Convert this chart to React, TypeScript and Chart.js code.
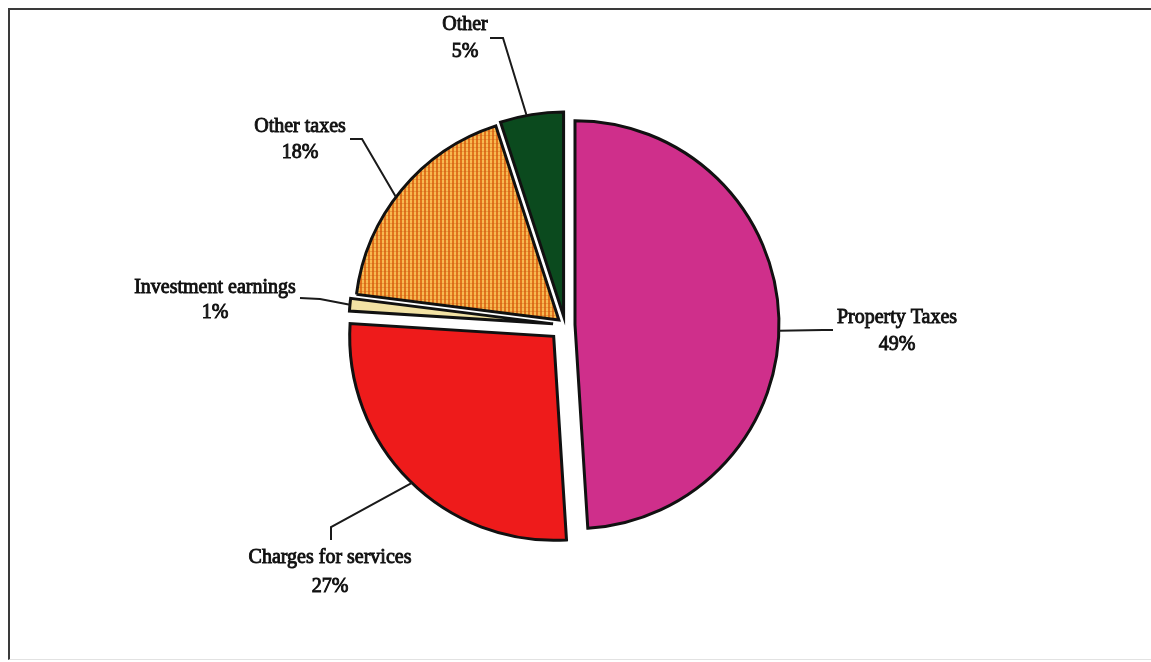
import React, { useEffect, useRef } from 'react';
import { Chart, registerables } from 'chart.js';

Chart.register(...registerables);

// ---- data ----
const categories = ['Property Taxes', 'Charges for services', 'Investment earnings', 'Other taxes', 'Other'];
const percentages = [49, 27, 1, 18, 5];

// ---- styles ----
const sliceColors = ['#CF2F8B', '#EE1B1B', '#F2E2A4', 'pattern', '#0B4A1E'];
const explodeDistance = [10, 16, 12, 8, 9];

// label layout, relative to pie centre: anchor fraction along slice, elbow, end, text centre x, line y's
const labelLayout = [
  { frac: 0.52, elbow: [258, 5], end: [268, 5], tx: 332, ty: [-7, 20] },
  { frac: 0.49, elbow: [-234, 202], end: [-234, 215], tx: -235, ty: [233, 262] },
  { frac: 0.5, elbow: [-245, -26], end: [-265, -27], tx: -350, ty: [-37, -12] },
  { frac: 0.46, elbow: [-203, -186], end: [-215, -186], tx: -265, ty: [-198, -172] },
  { frac: 0.42, elbow: [-62, -287], end: [-75, -287], tx: -100, ty: [-300, -273] },
];

function makePattern(): CanvasPattern | string {
  const c = document.createElement('canvas');
  c.width = 4;
  c.height = 4;
  const g = c.getContext('2d');
  if (!g) return '#EE9030';
  g.fillStyle = '#F7BA52';
  g.fillRect(0, 0, 4, 4);
  g.fillStyle = '#E2731C';
  g.fillRect(0, 0, 2, 4);
  g.fillStyle = 'rgba(200,90,20,0.35)';
  g.fillRect(0, 3, 4, 1);
  const p = g.createPattern(c, 'repeat');
  return p || '#EE9030';
}

const explodePlugin = {
  id: 'explodeSlices',
  afterDatasetUpdate(chart: any, args: any) {
    const meta = args.meta;
    meta.data.forEach((el: any, i: number) => {
      const d = explodeDistance[i] || 0;
      const mid = (el.startAngle + el.endAngle) / 2;
      el.x += Math.cos(mid) * d;
      el.y += Math.sin(mid) * d;
    });
  },
};

const labelPlugin = {
  id: 'sliceLabels',
  afterDraw(chart: any) {
    const ctx = chart.ctx;
    const area = chart.chartArea;
    const cx = (area.left + area.right) / 2;
    const cy = (area.top + area.bottom) / 2;
    const meta = chart.getDatasetMeta(0);
    ctx.save();
    meta.data.forEach((el: any, i: number) => {
      const L = labelLayout[i];
      const a = el.startAngle + (el.endAngle - el.startAngle) * L.frac;
      const R = el.outerRadius;
      const ax = el.x + Math.cos(a) * R;
      const ay = el.y + Math.sin(a) * R;
      ctx.strokeStyle = '#1a1a1a';
      ctx.lineWidth = 2;
      ctx.lineJoin = 'miter';
      ctx.beginPath();
      ctx.moveTo(ax, ay);
      ctx.lineTo(cx + L.elbow[0], cy + L.elbow[1]);
      ctx.lineTo(cx + L.end[0], cy + L.end[1]);
      ctx.stroke();

      ctx.font = '20px "Liberation Serif", "Times New Roman", serif';
      ctx.textAlign = 'center';
      ctx.textBaseline = 'middle';
      ctx.fillStyle = '#111111';
      ctx.strokeStyle = '#111111';
      ctx.lineWidth = 0.9;
      const lines = [categories[i], percentages[i] + '%'];
      lines.forEach((t, k) => {
        const x = cx + L.tx;
        const y = cy + L.ty[k];
        ctx.fillText(t, x, y);
        ctx.strokeText(t, x, y);
      });
    });
    ctx.restore();
  },
};

export default function App() {
  const ref = useRef<HTMLCanvasElement | null>(null);
  useEffect(() => {
    const canvas = ref.current;
    if (!canvas) return;
    const pattern = makePattern();
    const colors = sliceColors.map((c) => (c === 'pattern' ? pattern : c));
    const chart = new Chart(canvas, {
      type: 'pie',
      data: {
        labels: categories,
        datasets: [
          {
            data: percentages,
            backgroundColor: colors as any,
            borderColor: '#111111',
            borderWidth: 3,
            borderJoinStyle: 'miter',
          } as any,
        ],
      },
      options: {
        responsive: false,
        animation: false,
        events: [],
        radius: 204,
        layout: { padding: { left: 0, right: 21, top: 0, bottom: 12 } },
        plugins: {
          legend: { display: false },
          tooltip: { enabled: false },
          title: { display: false },
        },
      } as any,
      plugins: [explodePlugin, labelPlugin],
    });
    return () => chart.destroy();
  }, []);

  return (
    <div style={{ position: 'fixed', left: 0, top: 0, width: 1151, height: 662, background: '#ffffff', overflow: 'hidden' }}>
      <div
        style={{
          position: 'absolute',
          left: 8,
          top: 8,
          width: 1150,
          height: 652,
          borderLeft: '2px solid #3a3a3a',
          borderTop: '2px solid #3a3a3a',
          borderBottom: '1px solid #e2e2e2',
          boxSizing: 'border-box',
        }}
      />
      <canvas ref={ref} width={1151} height={662} style={{ position: 'absolute', left: 0, top: 0 }} />
    </div>
  );
}
